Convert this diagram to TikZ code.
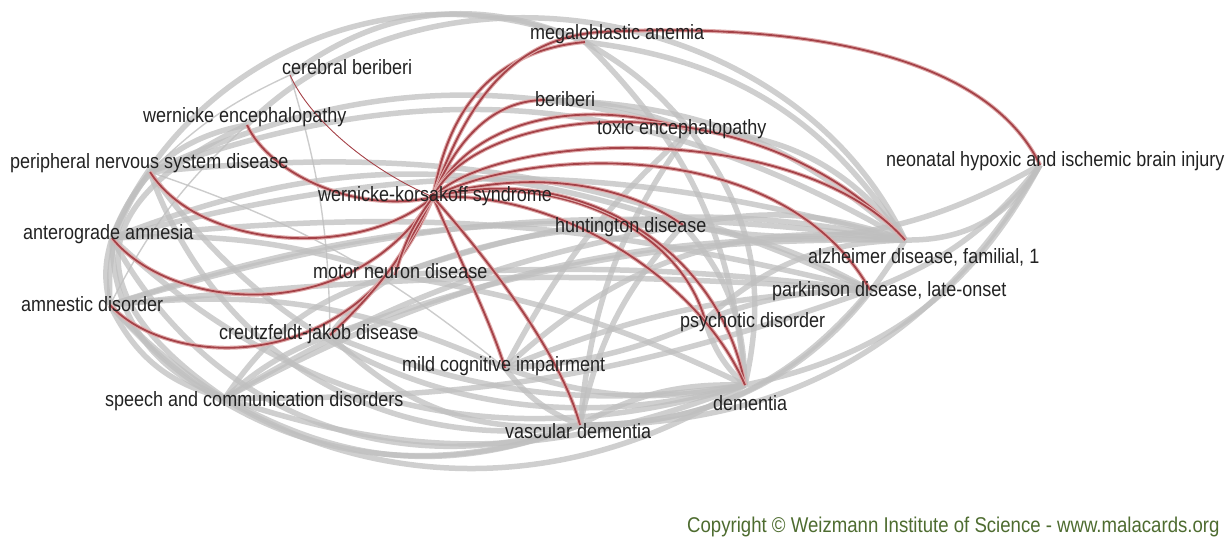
\documentclass[tikz,border=0pt]{standalone}
\usepackage{fontspec}
\setmainfont{Liberation Sans}
\definecolor{rdark}{RGB}{165,66,72}
\definecolor{rlight}{RGB}{224,172,172}
\definecolor{lbltxt}{RGB}{34,34,34}
\definecolor{copygreen}{RGB}{78,108,48}
\newcommand{\tallbox}[1]{\scalebox{1}[1.15]{#1}}
\tikzset{
  ge/.style={draw=gray!50, line width=5.5pt, opacity=0.75},
  gthin/.style={draw=gray!50, line width=1.4pt, opacity=0.8},
  re/.style={draw=rlight, double=rdark, double distance=1.8pt, line width=1.1pt},
  rthin/.style={draw=rdark, line width=0.9pt},
  lbl/.style={anchor=base west, inner sep=0pt, text=lbltxt, font=\fontsize{18}{18}\selectfont},
}
\begin{document}
\begin{tikzpicture}[x=1pt,y=1pt]
\useasboundingbox (0,0) rectangle (1230,-550);
% node points
\coordinate (ma)  at (585,-42);
\coordinate (cb)  at (290,-75);
\coordinate (we)  at (247,-125);
\coordinate (pns) at (150,-172);
\coordinate (wk)  at (433,-197);
\coordinate (aa)  at (112,-238);
\coordinate (mnd) at (395,-275);
\coordinate (ad)  at (110,-305);
\coordinate (cjd) at (330,-335);
\coordinate (mci) at (505,-368);
\coordinate (scd) at (225,-398);
\coordinate (vd)  at (580,-425);
\coordinate (dem) at (745,-385);
\coordinate (pd)  at (705,-320);
\coordinate (par) at (870,-290);
\coordinate (alz) at (905,-240);
\coordinate (hd)  at (683,-225);
\coordinate (te)  at (690,-130);
\coordinate (bb)  at (545,-100);
\coordinate (neo) at (1040,-165);

% gray edges
\draw[ge] (pns) to[bend left=25] (alz);
\draw[ge] (aa) to[bend left=15] (alz);
\draw[ge] (ad) to[bend left=12] (alz);
\draw[ge] (ad) to[bend right=40] (dem);
\draw[ge] (aa) to[bend right=30] (dem);
\draw[ge] (pns) to[bend right=35] (dem);
\draw[ge] (scd) to[bend left=15] (alz);
\draw[ge] (scd) to[bend right=20] (dem);
\draw[ge] (scd) to[bend right=10] (par);
\draw[ge] (cjd) to[bend left=10] (alz);
\draw[ge] (cjd) to[bend right=15] (dem);
\draw[ge] (cjd) to[bend right=25] (vd);
\draw[ge] (mnd) to[bend left=15] (alz);
\draw[ge] (mnd) to[bend left=8] (dem);
\draw[ge] (mnd) to[bend left=5] (par);
\draw[ge] (mci) to[bend left=25] (alz);
\draw[ge] (mci) to[bend right=15] (dem);
\draw[ge] (mci) to[bend left=10] (par);
\draw[ge] (vd) to[bend right=30] (alz);
\draw[ge] (vd) to[bend left=15] (dem);
\draw[ge] (vd) to[bend right=25] (par);
\draw[ge] (hd) to[bend left=15] (alz);
\draw[ge] (hd) to[bend left=20] (dem);
\draw[ge] (hd) to[bend right=15] (vd);
\draw[ge] (pd) to[bend left=20] (alz);
\draw[ge] (pd) to[bend right=15] (dem);
\draw[ge] (te) to[bend left=25] (alz);
\draw[ge] (te) to[bend left=25] (dem);
\draw[ge] (te) to[bend right=15] (vd);
\draw[ge] (te) to[bend right=10] (mci);
\draw[ge] (ma) to[bend left=25] (alz);
\draw[ge] (ma) to[bend left=10] (te);
\draw[ge] (ma) to[bend left=20] (dem);
\draw[ge] (ma) to[bend right=45] (aa);
\draw[ge] (cb) to[bend left=30] (ma);
\draw[ge] (we) to[bend left=55] (alz);
\draw[ge] (we) to[bend right=30] (aa);
\draw[ge] (we) to[bend right=60, looseness=1.7] (scd);
\draw[ge] (pns) to[bend right=20] (ad);
\draw[ge] (pns) to[bend right=40] (vd);
\draw[ge] (aa) to[bend right=15] (ad);
\draw[ge] (aa) to[bend right=35] (scd);
\draw[ge] (ad) to[bend right=25] (scd);
\draw[ge] (ad) to[bend right=35] (vd);
\draw[ge] (aa) to[bend right=40] (vd);
\draw[ge] (scd) to[bend right=25] (vd);
\draw[ge] (neo) to[bend left=30] (alz);
\draw[ge] (neo) to[bend left=25] (dem);
\draw[ge] (neo) to[bend left=15] (par);
\draw[ge] (neo) to[bend left=30] (vd);
\draw[ge] (neo) to[bend left=20] (hd);
\draw[ge] (mnd) to[bend right=20] (scd);
\draw[ge] (mnd) to[bend right=10] (cjd);
\draw[ge] (cjd) to[bend right=10] (scd);
\draw[ge] (mci) to[bend right=15] (vd);
\draw[ge] (aa) to[bend left=10] (par);
\draw[ge] (pns) to[bend left=15] (par);
\draw[ge] (ad) to[bend left=5] (par);
\draw[ge] (bb) to[bend left=20] (alz);
\draw[ge] (bb) to[bend left=10] (te);
\draw[ge] (hd) to[bend left=10] (par);
\draw[ge] (pd) to[bend left=10] (par);
\draw[ge] (mci) to[bend right=10] (pd);
\draw[ge] (pns) to[bend left=20] (te);
\draw[ge] (aa) to[bend left=20] (hd);
\draw[ge] (ad) to[bend left=10] (hd);
\draw[ge] (scd) to[bend left=10] (hd);
\draw[ge] (mnd) to[bend left=10] (hd);
\draw[ge] (ad) to[bend left=15] (mci);
\draw[ge] (aa) to[bend left=10] (mnd);
% thin gray
\draw[gthin] (cb) to[bend right=10] (pns);
\draw[gthin] (cb) to[bend left=8] (cjd);
\draw[gthin] (we) to[bend right=10] (ad);
\draw[gthin] (pns) to[bend left=10] (mci);

% red edges (wernicke-korsakoff syndrome)
\draw[re] (we) .. controls (270,-175) and (360,-215) .. (wk);
\draw[re] (pns) .. controls (200,-250) and (360,-260) .. (wk);
\draw[re] (aa) .. controls (170,-310) and (350,-330) .. (wk);
\draw[re] (ad) .. controls (170,-370) and (360,-380) .. (wk);
\draw[re] (cjd) to[bend right=10] (wk);
\draw[re] (mnd) to[bend left=10] (wk);
\draw[re] (wk) .. controls (450,-100) and (500,-50) .. (ma);
\draw[re] (wk) .. controls (470,-90) and (520,-38) .. (600,-32) .. controls (760,-24) and (980,-40) .. (neo);
\draw[re] (wk) .. controls (460,-130) and (500,-100) .. (bb);
\draw[re] (wk) .. controls (470,-120) and (580,-95) .. (te);
\draw[re] (wk) .. controls (480,-100) and (760,-80) .. (alz);
\draw[re] (wk) .. controls (500,-130) and (800,-120) .. (alz);
\draw[re] (wk) .. controls (520,-150) and (780,-130) .. (par);
\draw[re] (wk) .. controls (520,-170) and (620,-180) .. (hd);
\draw[re] (wk) .. controls (560,-170) and (680,-230) .. (pd);
\draw[re] (wk) .. controls (580,-160) and (720,-250) .. (dem);
\draw[re] (wk) .. controls (560,-190) and (700,-280) .. (dem);
\draw[re] (wk) .. controls (460,-260) and (490,-320) .. (mci);
\draw[re] (wk) .. controls (480,-250) and (560,-350) .. (vd);
\draw[rthin] (wk) .. controls (370,-170) and (310,-120) .. (cb);
\fill[rdark!80!black] (wk) circle (4);

% labels
\node[lbl] (lma)  at (530,-39)  {\tallbox{megaloblastic anemia}};
\node[lbl] (lcb)  at (282,-74)  {\tallbox{cerebral beriberi}};
\node[lbl] (lwe)  at (143,-122) {\tallbox{wernicke encephalopathy}};
\node[lbl] (lpns) at (10,-168)  {\tallbox{peripheral nervous system disease}};
\node[lbl] (lwk)  at (318,-201) {\tallbox{wernicke-korsakoff syndrome}};
\node[lbl] (laa)  at (23,-239)  {\tallbox{anterograde amnesia}};
\node[lbl] (lmnd) at (313,-278) {\tallbox{motor neuron disease}};
\node[lbl] (lad)  at (21,-311)  {\tallbox{amnestic disorder}};
\node[lbl] (lcjd) at (219,-339) {\tallbox{creutzfeldt-jakob disease}};
\node[lbl] (lmci) at (402,-371) {\tallbox{mild cognitive impairment}};
\node[lbl] (lscd) at (105,-406) {\tallbox{speech and communication disorders}};
\node[lbl] (lvd)  at (505,-438) {\tallbox{vascular dementia}};
\node[lbl] (ldem) at (713,-410) {\tallbox{dementia}};
\node[lbl] (lpd)  at (680,-327) {\tallbox{psychotic disorder}};
\node[lbl] (lpar) at (772,-296) {\tallbox{parkinson disease, late-onset}};
\node[lbl] (lalz) at (808,-263) {\tallbox{alzheimer disease, familial, 1}};
\node[lbl] (lhd)  at (555,-232) {\tallbox{huntington disease}};
\node[lbl] (lte)  at (597,-134) {\tallbox{toxic encephalopathy}};
\node[lbl] (lbb)  at (535,-106) {\tallbox{beriberi}};
\node[lbl] (lneo) at (886,-166) {\tallbox{neonatal hypoxic and ischemic brain injury}};
\node[anchor=base west, inner sep=0pt, text=copygreen, font=\fontsize{18.6}{18.6}\selectfont] (copy) at (687,-532) {\tallbox{Copyright © Weizmann Institute of Science - www.malacards.org}};
\end{tikzpicture}
\end{document}
